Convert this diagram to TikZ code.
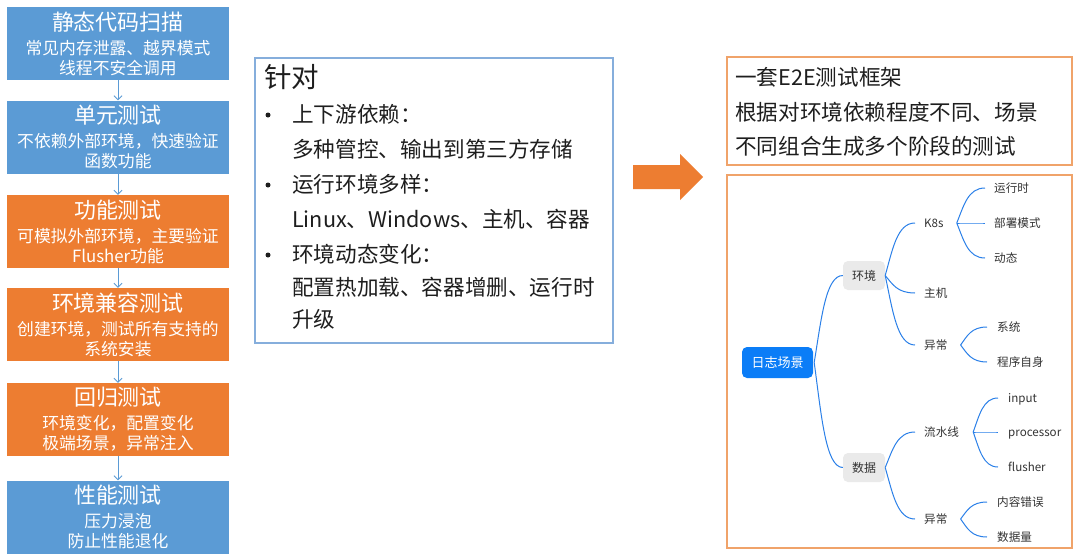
\documentclass[tikz,border=0pt]{standalone}
\usepackage{fontspec}
\setmainfont{Noto Sans CJK SC}
\usetikzlibrary{arrows.meta,calc}
\definecolor{lblue}{HTML}{5B9BD5}
\definecolor{lorange}{HTML}{ED7D31}
\definecolor{midborder}{HTML}{86AEDC}
\definecolor{rborder}{HTML}{F0A36A}
\definecolor{mmblue}{HTML}{2B80E8}
\definecolor{rootblue}{HTML}{0B7DF7}
\definecolor{graynode}{HTML}{EAEAEA}
\definecolor{txtdark}{HTML}{1E1E1E}
\definecolor{mmtext}{HTML}{333333}
\newcommand\ttlfont{\fontsize{22}{24}\selectfont}
\newcommand\mmlink[2]{\draw[mmline] let \p1=(#1), \p2=(#2) in (\p1) .. controls ({\x1+0.25*(\x2-\x1)},{\y1+0.5*(\y2-\y1)}) and ({\x1+0.4*(\x2-\x1)},\y2) .. (\p2);}
\begin{document}
\begin{tikzpicture}[x=1pt,y=-1pt,
  lbox/.style={minimum width=222pt,minimum height=73pt,inner sep=0pt,text=white,align=center,
    font=\fontsize{16.8}{20}\selectfont},
  larrow/.style={draw=lblue,line width=0.8pt,-{Straight Barb[length=4pt,width=8pt]}},
  midtxt/.style={anchor=west,inner sep=0pt,text=txtdark,font=\fontsize{21.6}{25}\selectfont,text height=18pt,text depth=3pt},
  bullet/.style={circle,fill=txtdark,inner sep=0pt,minimum size=5pt},
  mmnode/.style={anchor=west,inner sep=0pt,text=mmtext,font=\fontsize{11.6}{14}\selectfont,text height=10pt,text depth=2pt},
  mmbox/.style={minimum width=42pt,minimum height=29pt,inner sep=0pt,fill=graynode,rounded corners=5pt,text=mmtext,font=\fontsize{12}{14}\selectfont},
  mmline/.style={draw=mmblue,line width=1pt}
]
\useasboundingbox[fill=white] (0,0) rectangle (1080,560);

% left column
\node[lbox,fill=lblue] (b1) at (118,43.5) {{\ttlfont 静态代码扫描}\\[4pt]常见内存泄露、越界模式\\线程不安全调用};
\node[lbox,fill=lblue] (b2) at (118,137) {{\ttlfont 单元测试}\\[4pt]不依赖外部环境，快速验证\\函数功能};
\node[lbox,fill=lorange] (b3) at (118,231.5) {{\ttlfont 功能测试}\\[4pt]可模拟外部环境，主要验证\\Flusher功能};
\node[lbox,fill=lorange] (b4) at (118,324.5) {{\ttlfont 环境兼容测试}\\[4pt]创建环境，测试所有支持的\\系统安装};
\node[lbox,fill=lorange] (b5) at (118,419.5) {{\ttlfont 回归测试}\\[4pt]环境变化，配置变化\\极端场景，异常注入};
\node[lbox,fill=lblue] (b6) at (118,517) {{\ttlfont 性能测试}\\[4pt]压力浸泡\\防止性能退化};
\draw[larrow] (b1.south) -- (b2.north);
\draw[larrow] (b2.south) -- (b3.north);
\draw[larrow] (b3.south) -- (b4.north);
\draw[larrow] (b4.south) -- (b5.north);
\draw[larrow] (b5.south) -- (b6.north);

% middle box
\draw[midborder,line width=1.2pt] (255,58) rectangle (613,343);
\node[midtxt,font=\fontsize{27.5}{30}\selectfont,text height=23pt,text depth=4pt] (m0) at (264,78) {针对};
\node[bullet] (m1b) at (268,115) {};
\node[midtxt] (m1) at (292,115) {上下游依赖：};
\node[midtxt] (m2) at (292,150) {多种管控、输出到第三方存储};
\node[bullet] (m3b) at (268,185) {};
\node[midtxt] (m3) at (292,185) {运行环境多样：};
\node[midtxt] (m4) at (292,220) {Linux、Windows、主机、容器};
\node[bullet] (m5b) at (268,255) {};
\node[midtxt] (m5) at (292,255) {环境动态变化：};
\node[midtxt] (m6) at (292,288) {配置热加载、容器增删、运行时};
\node[midtxt] (m7) at (292,320) {升级};

% big arrow
\fill[lorange] (633,165) -- (680,165) -- (680,154) -- (703,177) -- (680,200) -- (680,189) -- (633,189) -- cycle;

% right top box
\draw[rborder,line width=1.2pt] (727,57) rectangle (1072,165);
\node[midtxt] (r1) at (735,78) {一套E2E测试框架};
\node[midtxt] (r2) at (735,113) {根据对环境依赖程度不同、场景};
\node[midtxt] (r3) at (735,147) {不同组合生成多个阶段的测试};

% right bottom box
\draw[rborder,line width=1.2pt] (727,175) rectangle (1072,548);

% mind map
\node[minimum width=71pt,minimum height=31pt,inner sep=0pt,fill=rootblue,rounded corners=5pt,text=white,font=\fontsize{13}{15}\selectfont] (root) at (777.5,362.5) {日志场景};
\node[mmbox] (env) at (864,275.5) {环境};
\node[mmbox] (data) at (864,467.5) {数据};
\node[mmnode] (k8s) at (924,223) {K8s};
\node[mmnode] (host) at (924,293) {主机};
\node[mmnode] (eexc) at (924,345) {异常};
\node[mmnode] (run) at (994,188) {运行时};
\node[mmnode] (deploy) at (994,223) {部署模式};
\node[mmnode] (dyn) at (994,258) {动态};
\node[mmnode] (sys) at (997,327) {系统};
\node[mmnode] (self) at (997,362) {程序自身};
\node[mmnode] (pipe) at (924,432) {流水线};
\node[mmnode] (dexc) at (924,519) {异常};
\node[mmnode] (inp) at (1008,398) {input};
\node[mmnode] (proc) at (1008,432) {processor};
\node[mmnode] (flu) at (1008,467) {flusher};
\node[mmnode] (cont) at (997,502) {内容错误};
\node[mmnode] (vol) at (997,537) {数据量};

\mmlink{[xshift=1pt]root.east}{env.west}
\mmlink{[xshift=1pt]root.east}{data.west}
\mmlink{env.east}{[xshift=-9pt]k8s.west}
\mmlink{env.east}{[xshift=-9pt]host.west}
\mmlink{env.east}{[xshift=-9pt]eexc.west}
\mmlink{[xshift=13pt]k8s.east}{[xshift=-9pt]run.west}
\mmlink{[xshift=13pt]k8s.east}{[xshift=-9pt]deploy.west}
\mmlink{[xshift=13pt]k8s.east}{[xshift=-9pt]dyn.west}
\mmlink{[xshift=13pt]eexc.east}{[xshift=-10pt]sys.west}
\mmlink{[xshift=13pt]eexc.east}{[xshift=-10pt]self.west}
\mmlink{data.east}{[xshift=-9pt]pipe.west}
\mmlink{data.east}{[xshift=-9pt]dexc.west}
\mmlink{[xshift=14pt]pipe.east}{[xshift=-10pt]inp.west}
\mmlink{[xshift=14pt]pipe.east}{[xshift=-10pt]proc.west}
\mmlink{[xshift=14pt]pipe.east}{[xshift=-10pt]flu.west}
\mmlink{[xshift=13pt]dexc.east}{[xshift=-10pt]cont.west}
\mmlink{[xshift=13pt]dexc.east}{[xshift=-10pt]vol.west}
\end{tikzpicture}
\end{document}
